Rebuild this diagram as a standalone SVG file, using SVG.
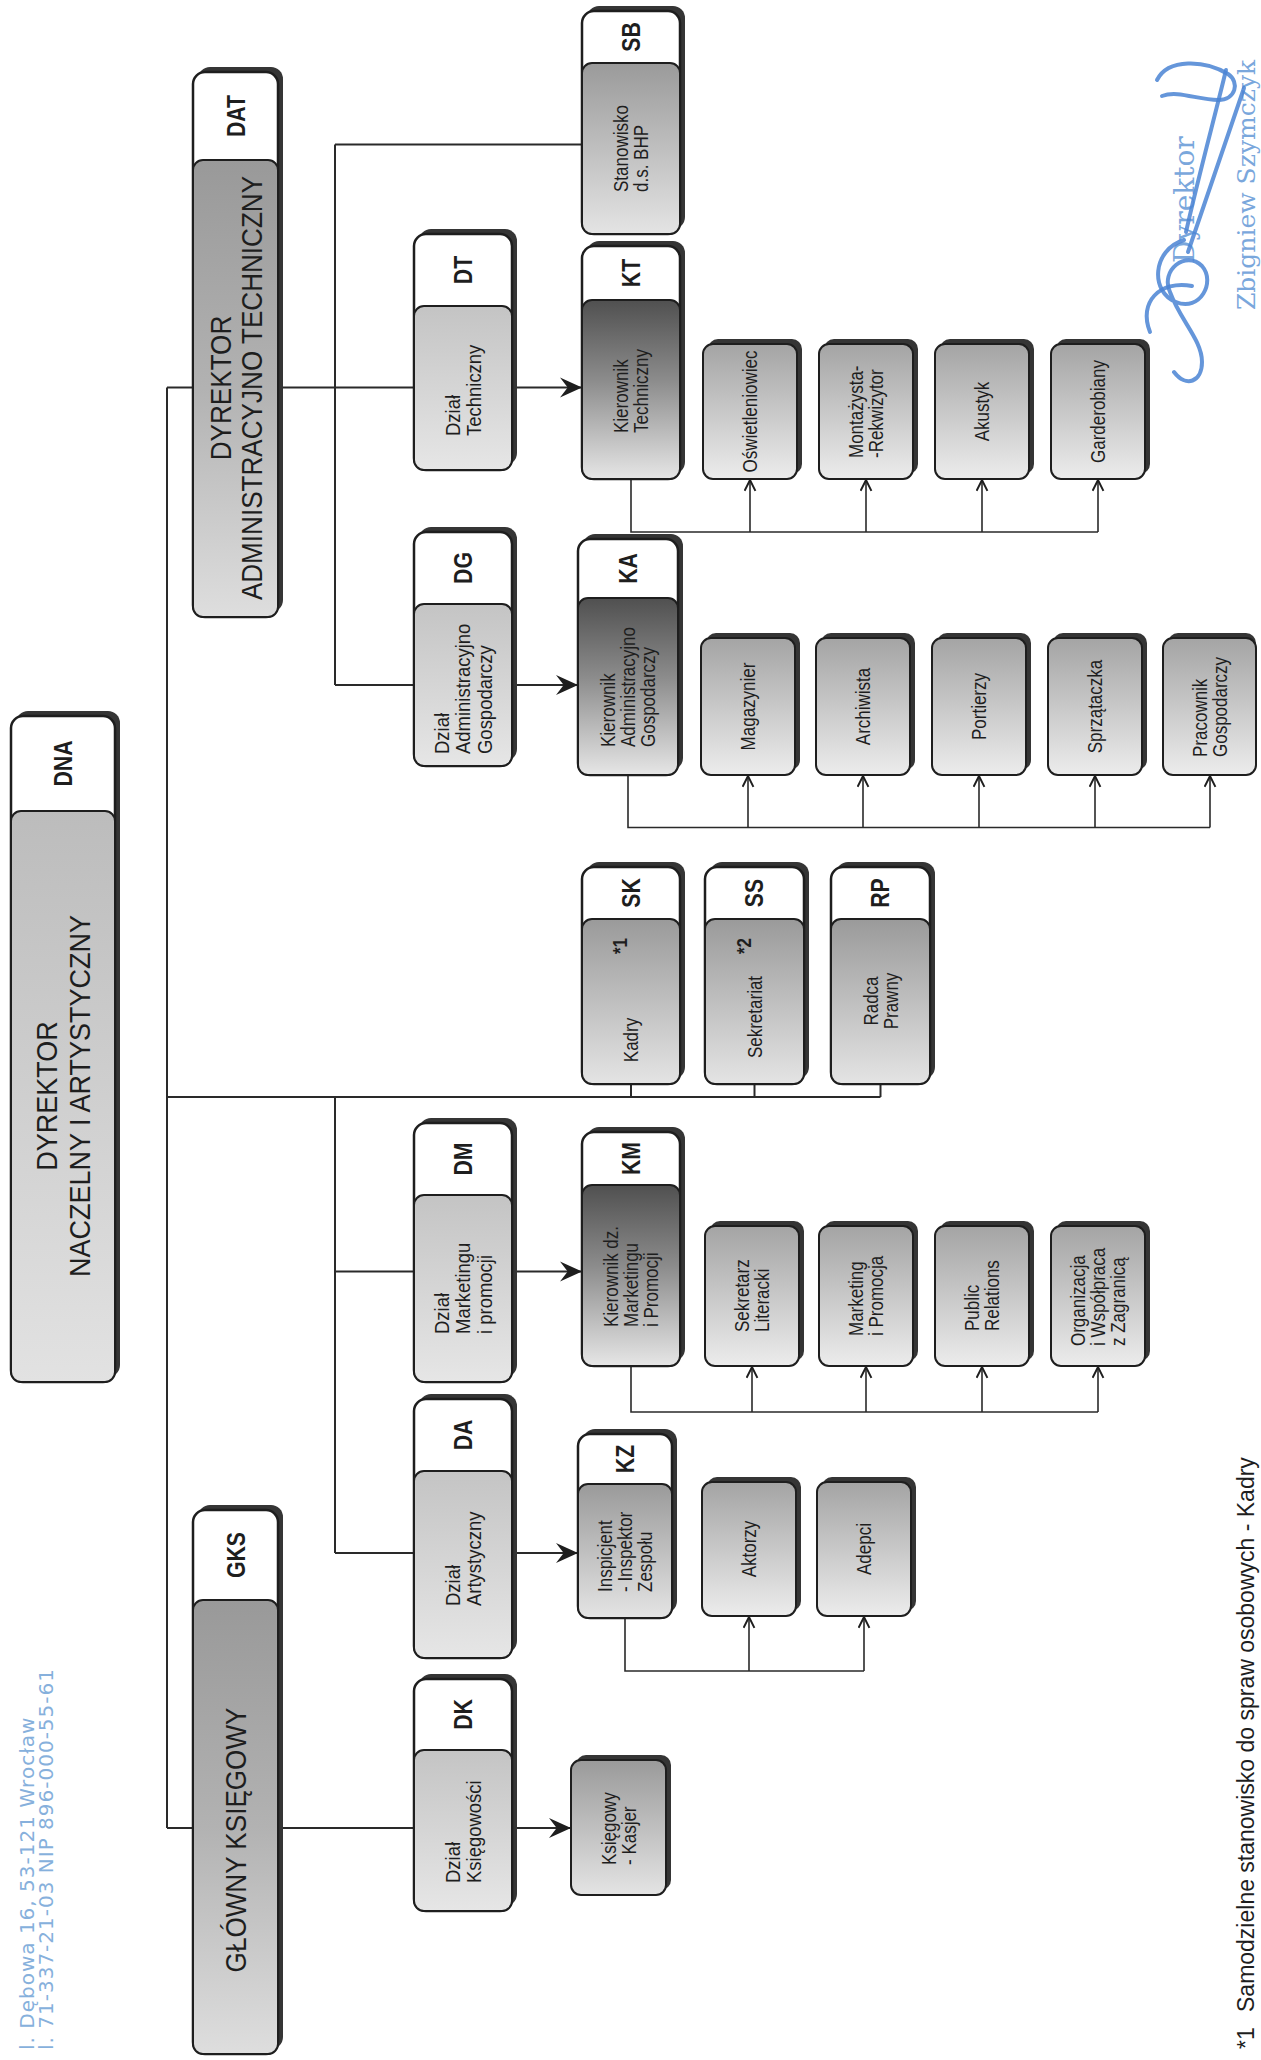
<svg xmlns="http://www.w3.org/2000/svg" width="1261" height="2060" viewBox="0 0 1261 2060">
<style>
.sh{fill:#353535}
.ob{fill:#ffffff;stroke:#1e1e1e;stroke-width:2.5}
.bd{stroke:#1e1e1e;stroke-width:2}
.t{font-family:"Liberation Sans",Arial,sans-serif;fill:#1e1e1e}
.h{font-weight:bold;font-size:25px;text-anchor:middle}
.m{font-size:30px;text-anchor:middle}
.m2{font-size:29px;text-anchor:middle}
.d{font-size:21px}
.b{font-size:20px}
.c{text-anchor:middle}
.ln{fill:none;stroke:#2a2a2a;stroke-width:2}
.lt{fill:none;stroke:#2a2a2a;stroke-width:1.6}
.stamp{font-family:"DejaVu Sans",sans-serif;font-size:20px;letter-spacing:1px;fill:#86b0dc}
.sig{fill:none;stroke:#4a84d4;stroke-width:4;stroke-linecap:round;opacity:0.85}
.serif{font-family:"DejaVu Serif",serif;fill:#7aa7dc}
</style>
<defs>
<linearGradient id="gDNA" x1="0" y1="0" x2="0" y2="1"><stop offset="0" stop-color="#bcbcbc"/><stop offset="1" stop-color="#e2e2e2"/></linearGradient>
<linearGradient id="gTop" x1="0" y1="0" x2="0" y2="1"><stop offset="0" stop-color="#999999"/><stop offset="0.5" stop-color="#b2b2b2"/><stop offset="1" stop-color="#dedede"/></linearGradient>
<linearGradient id="gDept" x1="0" y1="0" x2="0" y2="1"><stop offset="0" stop-color="#c4c4c4"/><stop offset="1" stop-color="#e6e6e6"/></linearGradient>
<linearGradient id="gMgr" x1="0" y1="0" x2="0" y2="1"><stop offset="0" stop-color="#505050"/><stop offset="0.45" stop-color="#8c8c8c"/><stop offset="1" stop-color="#e6e6e6"/></linearGradient>
<linearGradient id="gMid" x1="0" y1="0" x2="0" y2="1"><stop offset="0" stop-color="#9a9a9a"/><stop offset="1" stop-color="#e4e4e4"/></linearGradient>
<linearGradient id="gLeaf" x1="0" y1="0" x2="0" y2="1"><stop offset="0" stop-color="#a4a4a4"/><stop offset="1" stop-color="#ececec"/></linearGradient>
<marker id="dart" viewBox="0 0 20 20" refX="20" refY="10" markerWidth="22" markerHeight="22" orient="auto" markerUnits="userSpaceOnUse"><path d="M0,1 L20,10 L0,19 L7,10 Z" fill="#1e1e1e"/></marker>
<marker id="up" viewBox="0 0 12 12" refX="11" refY="6" markerWidth="13" markerHeight="13" orient="auto" markerUnits="userSpaceOnUse"><path d="M1,1 L11,6 L1,11" fill="none" stroke="#1e1e1e" stroke-width="1.8"/></marker>
</defs>
<rect width="1261" height="2060" fill="#ffffff"/>

<g id="connectors">
<path class="ln" d="M167,387.5 V1828"/>
<path class="ln" d="M167,387.5 H193"/>
<path class="ln" d="M278,387.5 H414"/>
<path class="ln" d="M335,144.5 V685"/>
<path class="ln" d="M335,144.5 H582"/>
<path class="ln" d="M335,685 H414"/>
<path class="ln" d="M167,1097 H880.5"/>
<path class="ln" d="M335,1097 V1553"/>
<path class="ln" d="M335,1271.5 H414"/>
<path class="ln" d="M335,1553 H414"/>
<path class="ln" d="M167,1828 H193"/>
<path class="ln" d="M278,1828 H414"/>
<path class="ln" d="M631,1084 V1097"/>
<path class="ln" d="M754.5,1084 V1097"/>
<path class="ln" d="M880.5,1084 V1097"/>
<path class="ln" marker-end="url(#dart)" d="M512,387.5 H582"/>
<path class="ln" marker-end="url(#dart)" d="M512,685 H578"/>
<path class="ln" marker-end="url(#dart)" d="M512,1271.5 H582"/>
<path class="ln" marker-end="url(#dart)" d="M512,1553 H578"/>
<path class="ln" marker-end="url(#dart)" d="M512,1828 H571"/>
<path class="lt" d="M631,479 V532 H1098"/>
<path class="lt" marker-end="url(#up)" d="M750,532 V480"/>
<path class="lt" marker-end="url(#up)" d="M866,532 V480"/>
<path class="lt" marker-end="url(#up)" d="M982,532 V480"/>
<path class="lt" marker-end="url(#up)" d="M1098,532 V480"/>
<path class="lt" d="M628,775 V827.5 H1210"/>
<path class="lt" marker-end="url(#up)" d="M748,827.5 V776"/>
<path class="lt" marker-end="url(#up)" d="M863,827.5 V776"/>
<path class="lt" marker-end="url(#up)" d="M979,827.5 V776"/>
<path class="lt" marker-end="url(#up)" d="M1095,827.5 V776"/>
<path class="lt" marker-end="url(#up)" d="M1210,827.5 V776"/>
<path class="lt" d="M631,1366 V1412 H1098"/>
<path class="lt" marker-end="url(#up)" d="M752,1412 V1367"/>
<path class="lt" marker-end="url(#up)" d="M866,1412 V1367"/>
<path class="lt" marker-end="url(#up)" d="M982,1412 V1367"/>
<path class="lt" marker-end="url(#up)" d="M1098,1412 V1367"/>
<path class="lt" d="M625,1618 V1671 H864"/>
<path class="lt" marker-end="url(#up)" d="M749,1671 V1617"/>
<path class="lt" marker-end="url(#up)" d="M864,1671 V1617"/>
</g>

<!-- top level -->
<g id="node-DNA">
<rect class="sh" x="16" y="711" width="104" height="666" rx="12"/>
<rect class="ob" x="11" y="716" width="104" height="666" rx="12"/>
<rect class="bd" x="11" y="811" width="104" height="571" rx="10" fill="url(#gDNA)"/>
<text class="t h" transform="translate(63,763.5) rotate(-90) scale(0.85,1)" y="8.5">DNA</text>
<text class="t m" transform="translate(63,1096) rotate(-90) scale(0.9,1)"><tspan x="0" y="-6">DYREKTOR</tspan><tspan x="0" y="27">NACZELNY I ARTYSTYCZNY</tspan></text>
</g>
<g id="node-DAT">
<rect class="sh" x="198" y="67" width="85" height="545" rx="12"/>
<rect class="ob" x="193" y="72" width="85" height="545" rx="12"/>
<rect class="bd" x="193" y="160" width="85" height="457" rx="10" fill="url(#gTop)"/>
<text class="t h" transform="translate(236,116) rotate(-90) scale(0.85,1)" y="8.5">DAT</text>
<text class="t m2" transform="translate(236,388) rotate(-90) scale(0.9,1)"><tspan x="0" y="-5.5">DYREKTOR</tspan><tspan x="0" y="25.5">ADMINISTRACYJNO TECHNICZNY</tspan></text>
</g>
<g id="node-GKS">
<rect class="sh" x="198" y="1505" width="85" height="544" rx="12"/>
<rect class="ob" x="193" y="1510" width="85" height="544" rx="12"/>
<rect class="bd" x="193" y="1600" width="85" height="454" rx="10" fill="url(#gTop)"/>
<text class="t h" transform="translate(236,1555) rotate(-90) scale(0.85,1)" y="8.5">GKS</text>
<text class="t m2" transform="translate(236,1840) rotate(-90) scale(0.9,1)" y="10">GŁÓWNY KSIĘGOWY</text>
</g>

<!-- departments -->
<g id="node-DT">
<rect class="sh" x="419" y="229" width="98" height="236" rx="12"/>
<rect class="ob" x="414" y="234" width="98" height="236" rx="12"/>
<rect class="bd" x="414" y="306" width="98" height="164" rx="10" fill="url(#gDept)"/>
<text class="t h" transform="translate(463,270) rotate(-90) scale(0.85,1)" y="8.5">DT</text>
<text class="t d" transform="translate(463,436) rotate(-90) scale(0.88,1)"><tspan x="0" y="-3.35">Dział</tspan><tspan x="0" y="18.15">Techniczny</tspan></text>
</g>
<g id="node-DG">
<rect class="sh" x="419" y="527" width="98" height="234" rx="12"/>
<rect class="ob" x="414" y="532" width="98" height="234" rx="12"/>
<rect class="bd" x="414" y="604" width="98" height="162" rx="10" fill="url(#gDept)"/>
<text class="t h" transform="translate(463,568) rotate(-90) scale(0.85,1)" y="8.5">DG</text>
<text class="t d" transform="translate(463,754) rotate(-90) scale(0.88,1)"><tspan x="0" y="-14.1">Dział</tspan><tspan x="0" y="7.4">Administracyjno</tspan><tspan x="0" y="28.9">Gospodarczy</tspan></text>
</g>
<g id="node-DM">
<rect class="sh" x="419" y="1118" width="98" height="259" rx="12"/>
<rect class="ob" x="414" y="1123" width="98" height="259" rx="12"/>
<rect class="bd" x="414" y="1195" width="98" height="187" rx="10" fill="url(#gDept)"/>
<text class="t h" transform="translate(463,1159) rotate(-90) scale(0.85,1)" y="8.5">DM</text>
<text class="t d" transform="translate(463,1334) rotate(-90) scale(0.88,1)"><tspan x="0" y="-14.1">Dział</tspan><tspan x="0" y="7.4">Marketingu</tspan><tspan x="0" y="28.9">i promocji</tspan></text>
</g>
<g id="node-DA">
<rect class="sh" x="419" y="1394" width="98" height="259" rx="12"/>
<rect class="ob" x="414" y="1399" width="98" height="259" rx="12"/>
<rect class="bd" x="414" y="1471" width="98" height="187" rx="10" fill="url(#gDept)"/>
<text class="t h" transform="translate(463,1435) rotate(-90) scale(0.85,1)" y="8.5">DA</text>
<text class="t d" transform="translate(463,1606) rotate(-90) scale(0.88,1)"><tspan x="0" y="-3.35">Dział</tspan><tspan x="0" y="18.15">Artystyczny</tspan></text>
</g>
<g id="node-DK">
<rect class="sh" x="419" y="1674" width="98" height="232" rx="12"/>
<rect class="ob" x="414" y="1679" width="98" height="232" rx="12"/>
<rect class="bd" x="414" y="1750" width="98" height="161" rx="10" fill="url(#gDept)"/>
<text class="t h" transform="translate(463,1714.5) rotate(-90) scale(0.85,1)" y="8.5">DK</text>
<text class="t d" transform="translate(463,1883) rotate(-90) scale(0.88,1)"><tspan x="0" y="-3.35">Dział</tspan><tspan x="0" y="18.15">Księgowości</tspan></text>
</g>

<!-- second column -->
<g id="node-SB">
<rect class="sh" x="587" y="6" width="98" height="223" rx="12"/>
<rect class="ob" x="582" y="11" width="98" height="223" rx="12"/>
<rect class="bd" x="582" y="63" width="98" height="171" rx="10" fill="url(#gMid)"/>
<text class="t h" transform="translate(631,37) rotate(-90) scale(0.85,1)" y="8.5">SB</text>
<text class="t b" transform="translate(631,192) rotate(-90) scale(0.85,1)"><tspan x="0" y="-3">Stanowisko</tspan><tspan x="0" y="17">d.s. BHP</tspan></text>
</g>
<g id="node-KT">
<rect class="sh" x="587" y="241" width="98" height="233" rx="12"/>
<rect class="ob" x="582" y="246" width="98" height="233" rx="12"/>
<rect class="bd" x="582" y="300" width="98" height="179" rx="10" fill="url(#gMgr)"/>
<text class="t h" transform="translate(631,273) rotate(-90) scale(0.85,1)" y="8.5">KT</text>
<text class="t b" transform="translate(631,433) rotate(-90) scale(0.85,1)"><tspan x="0" y="-3">Kierownik</tspan><tspan x="0" y="17">Techniczny</tspan></text>
</g>
<g id="node-KA">
<rect class="sh" x="583" y="534" width="100" height="236" rx="12"/>
<rect class="ob" x="578" y="539" width="100" height="236" rx="12"/>
<rect class="bd" x="578" y="598" width="100" height="177" rx="10" fill="url(#gMgr)"/>
<text class="t h" transform="translate(628,568.5) rotate(-90) scale(0.85,1)" y="8.5">KA</text>
<text class="t b" transform="translate(628,747) rotate(-90) scale(0.85,1)"><tspan x="0" y="-13">Kierownik</tspan><tspan x="0" y="7">Administracyjno</tspan><tspan x="0" y="27">Gospodarczy</tspan></text>
</g>
<g id="node-SK">
<rect class="sh" x="587" y="862" width="98" height="217" rx="12"/>
<rect class="ob" x="582" y="867" width="98" height="217" rx="12"/>
<rect class="bd" x="582" y="919" width="98" height="165" rx="10" fill="url(#gMid)"/>
<text class="t h" transform="translate(631,893) rotate(-90) scale(0.85,1)" y="8.5">SK</text>
<text class="t b c" transform="translate(631,1040) rotate(-90) scale(0.85,1)" y="7">Kadry</text>
<text class="t b c" transform="translate(631,946) rotate(-90) scale(0.85,1)" y="-4" font-weight="bold">*1</text>
</g>
<g id="node-SS">
<rect class="sh" x="710" y="862" width="99" height="217" rx="12"/>
<rect class="ob" x="705" y="867" width="99" height="217" rx="12"/>
<rect class="bd" x="705" y="919" width="99" height="165" rx="10" fill="url(#gMid)"/>
<text class="t h" transform="translate(754.5,893) rotate(-90) scale(0.85,1)" y="8.5">SS</text>
<text class="t b c" transform="translate(754.5,1017) rotate(-90) scale(0.85,1)" y="7">Sekretariat</text>
<text class="t b c" transform="translate(754.5,946) rotate(-90) scale(0.85,1)" y="-4" font-weight="bold">*2</text>
</g>
<g id="node-RP">
<rect class="sh" x="836" y="862" width="99" height="217" rx="12"/>
<rect class="ob" x="831" y="867" width="99" height="217" rx="12"/>
<rect class="bd" x="831" y="919" width="99" height="165" rx="10" fill="url(#gMid)"/>
<text class="t h" transform="translate(880.5,893) rotate(-90) scale(0.85,1)" y="8.5">RP</text>
<text class="t b c" transform="translate(880.5,1001) rotate(-90) scale(0.85,1)"><tspan x="0" y="-3">Radca</tspan><tspan x="0" y="17">Prawny</tspan></text>
</g>
<g id="node-KM">
<rect class="sh" x="587" y="1127" width="98" height="234" rx="12"/>
<rect class="ob" x="582" y="1132" width="98" height="234" rx="12"/>
<rect class="bd" x="582" y="1185" width="98" height="181" rx="10" fill="url(#gMgr)"/>
<text class="t h" transform="translate(631,1158.5) rotate(-90) scale(0.85,1)" y="8.5">KM</text>
<text class="t b" transform="translate(631,1327) rotate(-90) scale(0.85,1)"><tspan x="0" y="-13">Kierownik dz.</tspan><tspan x="0" y="7">Marketingu</tspan><tspan x="0" y="27">i Promocji</tspan></text>
</g>
<g id="node-KZ">
<rect class="sh" x="583" y="1429" width="94" height="184" rx="12"/>
<rect class="ob" x="578" y="1434" width="94" height="184" rx="12"/>
<rect class="bd" x="578" y="1484" width="94" height="134" rx="10" fill="url(#gMid)"/>
<text class="t h" transform="translate(625,1459) rotate(-90) scale(0.85,1)" y="8.5">KZ</text>
<text class="t b" transform="translate(625,1592) rotate(-90) scale(0.85,1)"><tspan x="0" y="-13">Inspicjent</tspan><tspan x="0" y="7">- Inspektor</tspan><tspan x="0" y="27">Zespołu</tspan></text>
</g>
<g id="node-KK">
<rect class="sh" x="576" y="1755" width="95" height="135" rx="10"/>
<rect class="bd" x="571" y="1760" width="95" height="135" rx="10" fill="url(#gMid)"/>
<text class="t b" transform="translate(618.5,1865) rotate(-90) scale(0.85,1)"><tspan x="0" y="-3">Księgowy</tspan><tspan x="0" y="17">- Kasjer</tspan></text>
</g>

<!-- leaves under KT -->
<g id="node-OS">
<rect class="sh" x="708" y="339" width="94" height="135" rx="10"/>
<rect class="bd" x="703" y="344" width="94" height="135" rx="10" fill="url(#gLeaf)"/>
<text class="t b c" transform="translate(750,411.5) rotate(-90) scale(0.85,1)" y="7">Oświetleniowiec</text>
</g>
<g id="node-MR">
<rect class="sh" x="824" y="339" width="94" height="135" rx="10"/>
<rect class="bd" x="819" y="344" width="94" height="135" rx="10" fill="url(#gLeaf)"/>
<text class="t b" transform="translate(866,458) rotate(-90) scale(0.85,1)"><tspan x="0" y="-3">Montażysta-</tspan><tspan x="0" y="17">-Rekwizytor</tspan></text>
</g>
<g id="node-AK">
<rect class="sh" x="940" y="339" width="94" height="135" rx="10"/>
<rect class="bd" x="935" y="344" width="94" height="135" rx="10" fill="url(#gLeaf)"/>
<text class="t b c" transform="translate(982,411.5) rotate(-90) scale(0.85,1)" y="7">Akustyk</text>
</g>
<g id="node-GA">
<rect class="sh" x="1056" y="339" width="94" height="135" rx="10"/>
<rect class="bd" x="1051" y="344" width="94" height="135" rx="10" fill="url(#gLeaf)"/>
<text class="t b c" transform="translate(1098,411.5) rotate(-90) scale(0.85,1)" y="7">Garderobiany</text>
</g>

<!-- leaves under KA -->
<g id="node-MG">
<rect class="sh" x="706" y="633" width="94" height="137" rx="10"/>
<rect class="bd" x="701" y="638" width="94" height="137" rx="10" fill="url(#gLeaf)"/>
<text class="t b c" transform="translate(748,706.5) rotate(-90) scale(0.85,1)" y="7">Magazynier</text>
</g>
<g id="node-AR">
<rect class="sh" x="821" y="633" width="94" height="137" rx="10"/>
<rect class="bd" x="816" y="638" width="94" height="137" rx="10" fill="url(#gLeaf)"/>
<text class="t b c" transform="translate(863,706.5) rotate(-90) scale(0.85,1)" y="7">Archiwista</text>
</g>
<g id="node-PO">
<rect class="sh" x="937" y="633" width="94" height="137" rx="10"/>
<rect class="bd" x="932" y="638" width="94" height="137" rx="10" fill="url(#gLeaf)"/>
<text class="t b c" transform="translate(979,706.5) rotate(-90) scale(0.85,1)" y="7">Portierzy</text>
</g>
<g id="node-SP">
<rect class="sh" x="1053" y="633" width="94" height="137" rx="10"/>
<rect class="bd" x="1048" y="638" width="94" height="137" rx="10" fill="url(#gLeaf)"/>
<text class="t b c" transform="translate(1095,706.5) rotate(-90) scale(0.85,1)" y="7">Sprzątaczka</text>
</g>
<g id="node-PG">
<rect class="sh" x="1168" y="633" width="88" height="137" rx="10"/>
<rect class="bd" x="1163" y="638" width="93" height="137" rx="10" fill="url(#gLeaf)"/>
<text class="t b" transform="translate(1210,757) rotate(-90) scale(0.85,1)"><tspan x="0" y="-3">Pracownik</tspan><tspan x="0" y="17">Gospodarczy</tspan></text>
</g>

<!-- leaves under KM -->
<g id="node-SL">
<rect class="sh" x="710" y="1221" width="94" height="140" rx="10"/>
<rect class="bd" x="705" y="1226" width="94" height="140" rx="10" fill="url(#gLeaf)"/>
<text class="t b" transform="translate(752,1332) rotate(-90) scale(0.85,1)"><tspan x="0" y="-3">Sekretarz</tspan><tspan x="0" y="17">Literacki</tspan></text>
</g>
<g id="node-MP">
<rect class="sh" x="824" y="1221" width="94" height="140" rx="10"/>
<rect class="bd" x="819" y="1226" width="94" height="140" rx="10" fill="url(#gLeaf)"/>
<text class="t b" transform="translate(866,1336) rotate(-90) scale(0.85,1)"><tspan x="0" y="-3">Marketing</tspan><tspan x="0" y="17">i Promocja</tspan></text>
</g>
<g id="node-PR">
<rect class="sh" x="940" y="1221" width="94" height="140" rx="10"/>
<rect class="bd" x="935" y="1226" width="94" height="140" rx="10" fill="url(#gLeaf)"/>
<text class="t b" transform="translate(982,1331) rotate(-90) scale(0.85,1)"><tspan x="0" y="-3">Public</tspan><tspan x="0" y="17">Relations</tspan></text>
</g>
<g id="node-OW">
<rect class="sh" x="1056" y="1221" width="94" height="140" rx="10"/>
<rect class="bd" x="1051" y="1226" width="94" height="140" rx="10" fill="url(#gLeaf)"/>
<text class="t b" transform="translate(1098,1346) rotate(-90) scale(0.85,1)"><tspan x="0" y="-13">Organizacja</tspan><tspan x="0" y="7">i Współpraca</tspan><tspan x="0" y="27">z Zagranicą</tspan></text>
</g>

<!-- leaves under KZ -->
<g id="node-AKT">
<rect class="sh" x="707" y="1477" width="94" height="134" rx="10"/>
<rect class="bd" x="702" y="1482" width="94" height="134" rx="10" fill="url(#gLeaf)"/>
<text class="t b c" transform="translate(749,1549) rotate(-90) scale(0.85,1)" y="7">Aktorzy</text>
</g>
<g id="node-AD">
<rect class="sh" x="822" y="1477" width="94" height="134" rx="10"/>
<rect class="bd" x="817" y="1482" width="94" height="134" rx="10" fill="url(#gLeaf)"/>
<text class="t b c" transform="translate(864,1549) rotate(-90) scale(0.85,1)" y="7">Adepci</text>
</g>

<!-- footnote -->
<g id="footnote">
<text class="t" font-size="23" transform="translate(1254,2049) rotate(-90)">*1</text>
<text class="t" font-size="23" transform="translate(1254,2012) rotate(-90)">Samodzielne stanowisko do spraw osobowych - Kadry</text>
</g>

<!-- stamp -->
<g id="stamp">
<text class="stamp" transform="translate(34,2050) rotate(-90)">l. Dębowa 16, 53-121 Wrocław</text>
<text class="stamp" transform="translate(53,2050) rotate(-90)">l. 71-337-21-03  NIP 896-000-55-61</text>
</g>

<!-- signature -->
<g id="signature">
<text class="serif" font-size="28" transform="translate(1194,263) rotate(-90)">Dyrektor</text>
<text class="serif" font-size="25" transform="translate(1255,310) rotate(-90)">Zbigniew Szymczyk</text>
<path class="sig" d="M1157,80 C1168,58 1205,60 1228,74 C1240,82 1236,100 1218,100 C1198,100 1178,90 1162,96"/>
<path class="sig" d="M1226,70 C1214,120 1200,170 1186,232"/>
<path class="sig" d="M1244,88 C1226,140 1206,200 1188,252"/>
<path class="sig" d="M1184,240 C1152,250 1150,292 1176,302 C1200,312 1216,282 1202,266 C1186,250 1160,270 1170,292 C1180,320 1202,340 1202,362 C1202,382 1186,388 1174,372"/>
<path class="sig" d="M1150,332 C1138,302 1160,280 1192,286"/>
</g>
</svg>
